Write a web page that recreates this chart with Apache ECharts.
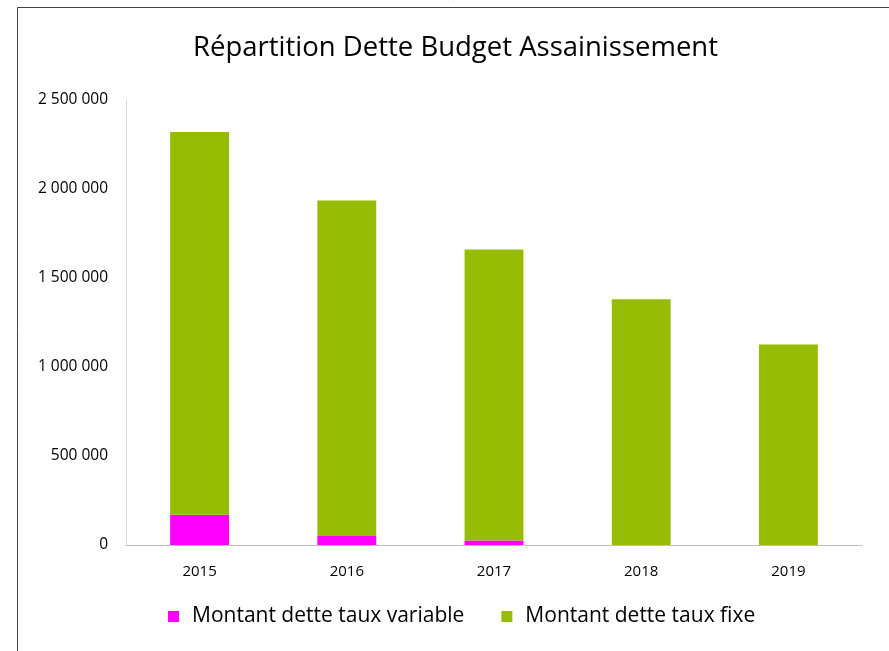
<!DOCTYPE html>
<html>
<head>
<meta charset="utf-8">
<script src="https://cdn.jsdelivr.net/npm/echarts@6/dist/echarts.min.js"></script>
<style>
  html, body { margin: 0; padding: 0; background: #fff; }
  #chart { width: 889px; height: 651px; }
</style>
</head>
<body>
<div id="chart"></div>
<script>
// données
const years = ['2015', '2016', '2017', '2018', '2019']
const tauxVariable = [170000, 50000, 25000, 0, 0]
const tauxFixe = [2150000, 1885000, 1635000, 1380000, 1127000]

// 2 500 000 -> format avec espaces
function fmt (v) {
  return String(v).replace(/\B(?=(\d{3})+(?!\d))/g, ' ')
}

const chart = echarts.init(document.getElementById('chart'))
const font = 'Open Sans, Noto Sans, sans-serif'

chart.setOption({
  animation: false,
  textStyle: { fontFamily: font },
  title: {
    text: 'Répartition Dette Budget Assainissement',
    left: 188,
    top: 29,
    textStyle: { fontSize: 27.5, fontWeight: 'normal', color: '#000', fontFamily: font }
  },
  graphic: [{
    type: 'rect',
    shape: { x: 17.5, y: 7.5, width: 900, height: 700 },
    style: { fill: 'none', stroke: '#404040', lineWidth: 1 }
  }],
  legend: {
    bottom: 19,
    left: 163,
    itemWidth: 11,
    itemHeight: 11,
    itemGap: 37,
    icon: 'rect',
    textStyle: { fontSize: 21, color: '#000', fontFamily: font, padding: [0, 0, 0, 8] },
    data: ['Montant dette taux variable', 'Montant dette taux fixe']
  },
  grid: { left: 126, right: 27, top: 100, bottom: 106 },
  xAxis: {
    type: 'category',
    data: years,
    axisLine: { lineStyle: { color: '#bfbfbf' } },
    axisTick: { show: false },
    axisLabel: { color: '#000', fontSize: 15, margin: 19 }
  },
  yAxis: {
    type: 'value',
    min: 0,
    max: 2500000,
    interval: 500000,
    axisLine: { show: true, lineStyle: { color: '#d9d9d9' } },
    axisTick: { show: false },
    splitLine: { show: false },
    axisLabel: { color: '#000', fontSize: 15.5, margin: 18, formatter: fmt }
  },
  series: [
    {
      name: 'Montant dette taux variable',
      type: 'bar',
      stack: 'dette',
      barWidth: '40%',
      data: tauxVariable,
      itemStyle: { color: '#ff00ff' }
    },
    {
      name: 'Montant dette taux fixe',
      type: 'bar',
      stack: 'dette',
      barWidth: '40%',
      data: tauxFixe,
      itemStyle: { color: '#96bd03' }
    }
  ]
})
</script>
</body>
</html>
